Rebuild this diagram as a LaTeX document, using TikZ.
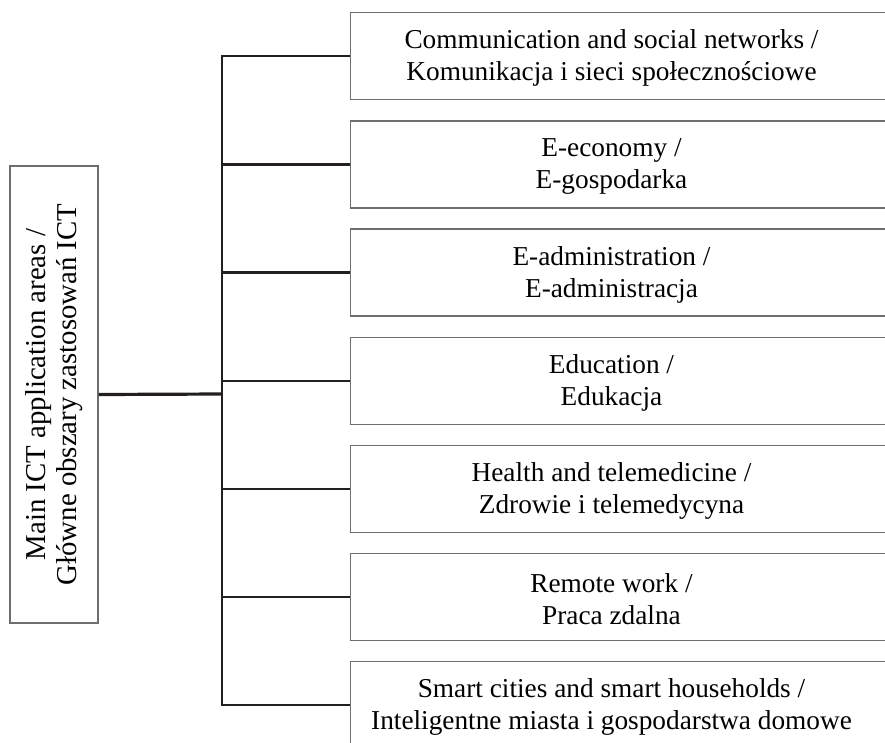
\documentclass[tikz,border=0pt]{standalone}
\usepackage{fontspec}
\setmainfont{Liberation Serif}
\definecolor{boxgray}{RGB}{110,110,110}
\definecolor{linedark}{RGB}{35,31,32}

\begin{document}
\begin{tikzpicture}[x=1pt,y=-1pt,
      every node/.append style={font=\fontsize{27.3}{32}\selectfont,inner sep=0pt},
      areabox/.style={draw=boxgray,line width=1.3pt,anchor=west,minimum width=545pt,minimum height=87pt},
      areatext/.style={align=center,yshift=-2pt},
      mainbox/.style={draw=boxgray,line width=1.3pt,rotate=90,minimum width=457pt,minimum height=88pt,align=center,font=\fontsize{28.8}{31}\selectfont},
      branch/.style={draw=linedark,line width=2.2pt},
      mainline/.style={draw=linedark,line width=3.2pt}]
    \useasboundingbox (0,0) rectangle (885,742);
    \node (areas) [mainbox] at (54,394.5) {Main ICT application areas /\\ Główne obszary zastosowań ICT};
    \coordinate (spine) at (222,394);
    \node (b1) [areabox] at (350,56) {};
    \node (t1) [areatext] at (611.5,56) {Communication and social networks /\\ Komunikacja i sieci społecznościowe};
    \node (b2) [areabox] at (350,164.5) {};
    \node (t2) [areatext] at (611.5,164.5) {E-economy /\\ E-gospodarka};
    \node (b3) [areabox] at (350,272.5) {};
    \node (t3) [areatext] at (611.5,272.5) {E-administration /\\ E-administracja};
    \node (b4) [areabox] at (350,380.8) {};
    \node (t4) [areatext] at (611.5,380.8) {Education /\\ Edukacja};
    \node (b5) [areabox] at (350,489) {};
    \node (t5) [areatext] at (611.5,489) {Health and telemedicine /\\ Zdrowie i telemedycyna};
    \node (b6) [areabox] at (350,597) {};
    \node (t6) [areatext] at (611.5,597) {Remote work /\\ Praca zdalna};
    \node (b7) [areabox] at (350,705.3) {};
    \node (t7) [areatext] at (611.5,705.3) {Smart cities and smart households /\\ Inteligentne miasta i gospodarstwa domowe};
    % connectors
    \draw[mainline] (areas.south) -- (spine);
    \draw[branch] (b1.west) -- (spine |- b1.west) -- (spine |- b7.west) -- (b7.west);
    \draw[branch] (spine |- b2.west) -- (b2.west);
    \draw[branch] (spine |- b3.west) -- (b3.west);
    \draw[branch] (spine |- b4.west) -- (b4.west);
    \draw[branch] (spine |- b5.west) -- (b5.west);
    \draw[branch] (spine |- b6.west) -- (b6.west);
\end{tikzpicture}
\end{document}
